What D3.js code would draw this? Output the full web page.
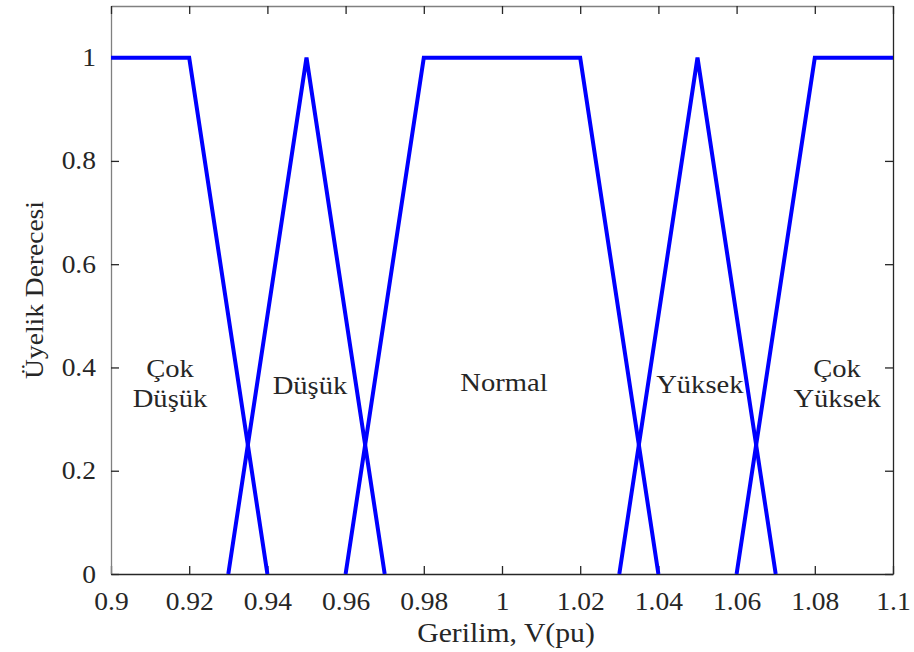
<!DOCTYPE html>
<html>
<head>
<meta charset="utf-8">
<script src="https://cdn.jsdelivr.net/npm/d3@7"></script>
<style>
  body { margin: 0; background: #fff; }
</style>
</head>
<body>
<div id="chart"></div>
<script>
// Membership functions (voltage pu -> degree)
const cokDusuk = [[0.9, 1], [0.92, 1], [0.94, 0]];
const dusuk = [[0.93, 0], [0.95, 1], [0.97, 0]];
const normal = [[0.96, 0], [0.98, 1], [1.02, 1], [1.04, 0]];
const yuksek = [[1.03, 0], [1.05, 1], [1.07, 0]];
const cokYuksek = [[1.06, 0], [1.08, 1], [1.1, 1]];
const seriesList = [cokDusuk, dusuk, normal, yuksek, cokYuksek];

const xTicks = [0.9, 0.92, 0.94, 0.96, 0.98, 1, 1.02, 1.04, 1.06, 1.08, 1.1];
const yTicks = [0, 0.2, 0.4, 0.6, 0.8, 1];

// Region labels: position in data units (first-line baseline) and text lines
const labelX = [0.9151, 0.9509, 1.0005, 1.0506, 1.0857];
const labelY = [0.3815, 0.3485, 0.3544, 0.3505, 0.3815];
const labelText = [["Çok", "Düşük"], ["Düşük"], ["Normal"], ["Yüksek"], ["Çok", "Yüksek"]];

const FONT = "'Liberation Serif', 'Times New Roman', Times, serif";
const INK = "#262626";
const SX = 1.1; // glyphs in the reference are a bit wider than Times

const margin = { top: 6, right: 21, bottom: 78, left: 111 };
const W = 914, H = 652;
const width = W - margin.left - margin.right;
const height = H - margin.top - margin.bottom;

const x = d3.scaleLinear().domain([0.9, 1.1]).range([0, width]);
const y = d3.scaleLinear().domain([0, 1.1]).range([height, 0]);

const svg = d3.select("#chart").append("svg")
  .attr("width", W).attr("height", H)
  .append("g")
  .attr("transform", `translate(${margin.left},${margin.top})`);

const fmt = d => String(+d.toFixed(2));

// Bottom axis (inward ticks)
svg.append("g")
  .attr("transform", `translate(0,${height})`)
  .call(d3.axisBottom(x).tickValues(xTicks).tickFormat(fmt).tickSizeInner(-8).tickSizeOuter(0).tickPadding(18))
  .call(g => g.select(".domain").attr("stroke", INK).attr("stroke-width", 1.3))
  .call(g => g.selectAll(".tick line").attr("stroke", INK).attr("stroke-width", 1.3))
  .call(g => g.selectAll(".tick text")
    .attr("fill", INK)
    .style("font-family", FONT)
    .style("font-size", "25px")
    .attr("transform", `scale(${SX},1)`));

// Left axis
svg.append("g")
  .call(d3.axisLeft(y).tickValues(yTicks).tickFormat(fmt).tickSizeInner(-8).tickSizeOuter(0))
  .call(g => g.select(".domain").attr("stroke", "#808080").attr("stroke-width", 1.3))
  .call(g => g.selectAll(".tick line").attr("stroke", INK).attr("stroke-width", 1.3))
  .call(g => g.selectAll(".tick text")
    .attr("x", 0)
    .attr("fill", INK)
    .style("font-family", FONT)
    .style("font-size", "25px")
    .attr("transform", `translate(-15,0) scale(${SX},1)`));

// Mirrored top and right axes
svg.append("g")
  .call(d3.axisTop(x).tickValues(xTicks).tickFormat("").tickSizeInner(-8).tickSizeOuter(0))
  .call(g => g.select(".domain").attr("stroke", "#808080").attr("stroke-width", 1.3))
  .call(g => g.selectAll(".tick line").attr("stroke", INK).attr("stroke-width", 1.3));

svg.append("g")
  .attr("transform", `translate(${width},0)`)
  .call(d3.axisRight(y).tickValues(yTicks).tickFormat("").tickSizeInner(-8).tickSizeOuter(0))
  .call(g => g.select(".domain").attr("stroke", INK).attr("stroke-width", 1.3))
  .call(g => g.selectAll(".tick line").attr("stroke", INK).attr("stroke-width", 1.3));

// Membership lines
const line = d3.line().x(d => x(d[0])).y(d => y(d[1]));
svg.selectAll(".mf")
  .data(seriesList)
  .join("path")
  .attr("class", "mf")
  .attr("fill", "none")
  .attr("stroke", "#0000ff")
  .attr("stroke-width", 4)
  .attr("stroke-linejoin", "miter")
  .attr("d", line);

// Region labels
labelText.forEach((lines, i) => {
  const t = svg.append("text")
    .attr("transform", `translate(${x(labelX[i])},${y(labelY[i])}) scale(${SX},1)`)
    .attr("text-anchor", "middle")
    .attr("fill", INK)
    .style("font-family", FONT)
    .style("font-size", "26px");
  lines.forEach((s, j) => {
    t.append("tspan")
      .attr("x", 0)
      .attr("dy", j === 0 ? 0 : 30)
      .text(s);
  });
});

// Axis titles
svg.append("text")
  .attr("transform", `translate(${width / 2 + 4},${height + 68}) scale(${SX},1)`)
  .attr("text-anchor", "middle")
  .attr("fill", INK)
  .style("font-family", FONT)
  .style("font-size", "27px")
  .text("Gerilim, V(pu)");

svg.append("text")
  .attr("transform", `translate(-68,${y(0.55)}) rotate(-90) scale(${SX},1)`)
  .attr("text-anchor", "middle")
  .attr("fill", INK)
  .style("font-family", FONT)
  .style("font-size", "25px")
  .text("Üyelik Derecesi");
</script>
</body>
</html>
